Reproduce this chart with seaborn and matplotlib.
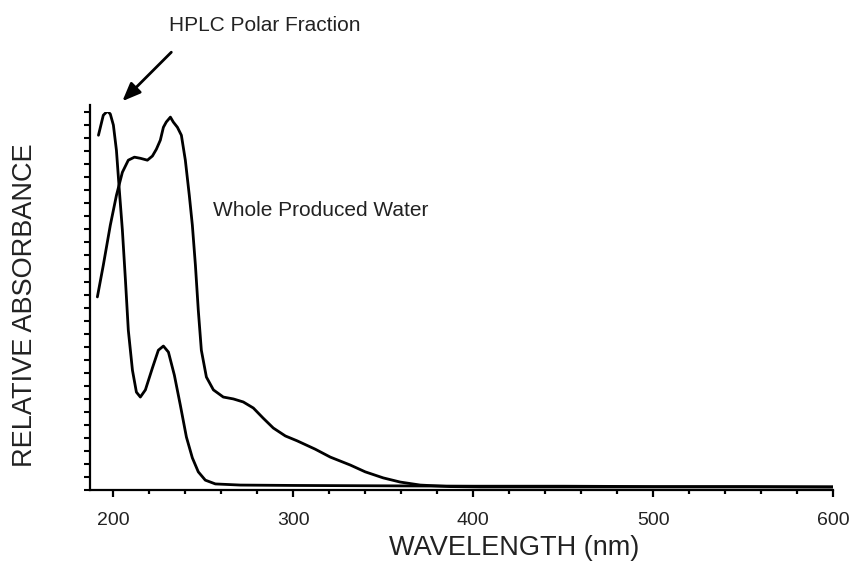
import numpy as np
import pandas as pd
import matplotlib
matplotlib.use("Agg")
import matplotlib.pyplot as plt
from matplotlib.ticker import MultipleLocator, FixedLocator
import seaborn as sns

# Relative absorbance spectra (wavelength in nm)
polar_nm = [191.7, 194.4, 196.7, 198.3, 200.0, 201.7, 203.3, 205.0, 206.7, 208.3,
            210.6, 212.8, 215.0, 217.8, 221.7, 225.0, 227.8, 230.6, 233.9, 237.2,
            240.6, 243.9, 247.2, 251.1, 256.7, 270.6, 300.0, 350.0, 400.0, 450.0,
            500.0, 550.0, 600.0]
polar_abs = [0.939, 0.992, 1.003, 0.995, 0.966, 0.899, 0.794, 0.688, 0.556, 0.423,
             0.317, 0.259, 0.246, 0.265, 0.323, 0.370, 0.381, 0.365, 0.304, 0.225,
             0.140, 0.085, 0.048, 0.026, 0.016, 0.013, 0.012, 0.011, 0.010, 0.010,
             0.009, 0.009, 0.008]

whole_nm = [191.1, 194.4, 198.3, 201.7, 205.0, 208.3, 211.7, 215.0, 218.9, 221.7,
            223.9, 226.1, 227.8, 229.4, 231.7, 233.3, 235.6, 237.8, 240.0, 242.2,
            243.9, 245.6, 247.2, 248.9, 251.7, 255.6, 261.1, 266.7, 272.2, 277.8,
            283.3, 288.9, 295.6, 302.2, 312.2, 320.6, 331.7, 340.0, 350.0, 359.4,
            370.6, 387.2, 403.9, 450.0, 500.0, 550.0, 600.0]
whole_abs = [0.511, 0.595, 0.701, 0.780, 0.841, 0.873, 0.881, 0.878, 0.873, 0.884,
             0.902, 0.926, 0.960, 0.974, 0.987, 0.974, 0.960, 0.939, 0.873, 0.780,
             0.701, 0.595, 0.476, 0.370, 0.299, 0.265, 0.246, 0.241, 0.233, 0.217,
             0.190, 0.164, 0.143, 0.130, 0.108, 0.087, 0.066, 0.048, 0.032, 0.021,
             0.013, 0.009, 0.008, 0.008, 0.008, 0.008, 0.008]

x_major = [200, 300, 400, 500, 600]

df = pd.concat([
    pd.DataFrame({"nm": polar_nm, "abs": polar_abs, "sample": "HPLC Polar Fraction"}),
    pd.DataFrame({"nm": whole_nm, "abs": whole_abs, "sample": "Whole Produced Water"}),
])

sns.set_style("ticks")
plt.rcParams["font.family"] = ["Liberation Sans", "DejaVu Sans"]

fig = plt.figure(figsize=(8.53, 5.63), dpi=100)
ax = fig.add_axes([0.1055, 0.1297, 0.871, 0.671])

sns.lineplot(data=df, x="nm", y="abs", units="sample", estimator=None,
             color="black", linewidth=2.0, sort=False, legend=False, ax=ax)

ax.set_xlim(187, 600)
ax.set_ylim(0, 1.0)
sns.despine(ax=ax)
for s in ("left", "bottom"):
    ax.spines[s].set_linewidth(1.6)
    ax.spines[s].set_color("black")
ax.spines["left"].set_bounds(0, 1.02)

ax.xaxis.set_major_locator(FixedLocator(x_major))
ax.xaxis.set_minor_locator(MultipleLocator(20))
ax.yaxis.set_major_locator(FixedLocator(np.linspace(0, 1.0, 30)))
ax.set_yticklabels([])
ax.set_xticklabels([str(v) for v in x_major])
ax.tick_params(axis="x", which="major", length=5, width=1.6, direction="out",
               labelsize=14, pad=11, color="black", labelcolor="#222222")
ax.tick_params(axis="x", which="minor", length=3, width=1.6, direction="out", color="black")
ax.tick_params(axis="y", which="major", length=4, width=1.5, direction="out", color="black")

ax.set_xlabel("WAVELENGTH (nm)", fontsize=19.5, color="#222222", va="center")
ax.xaxis.set_label_coords(0.571, -0.153)
ax.set_ylabel("RELATIVE ABSORBANCE", fontsize=19.5, color="#222222", va="center")
ax.yaxis.set_label_coords(-0.0875, 0.489)

ax.annotate("", xy=(203.9, 1.024), xytext=(233.3, 1.164), annotation_clip=False,
            arrowprops=dict(arrowstyle="-|>,head_length=1.1,head_width=0.45",
                            color="black", lw=2.0))
ax.text(284, 1.23, "HPLC Polar Fraction", fontsize=15, ha="center", va="center",
        color="#222222", clip_on=False)
ax.text(255.6, 0.741, "Whole Produced Water", fontsize=15, ha="left", va="center",
        color="#222222")

fig.savefig("out.png", dpi=100)
